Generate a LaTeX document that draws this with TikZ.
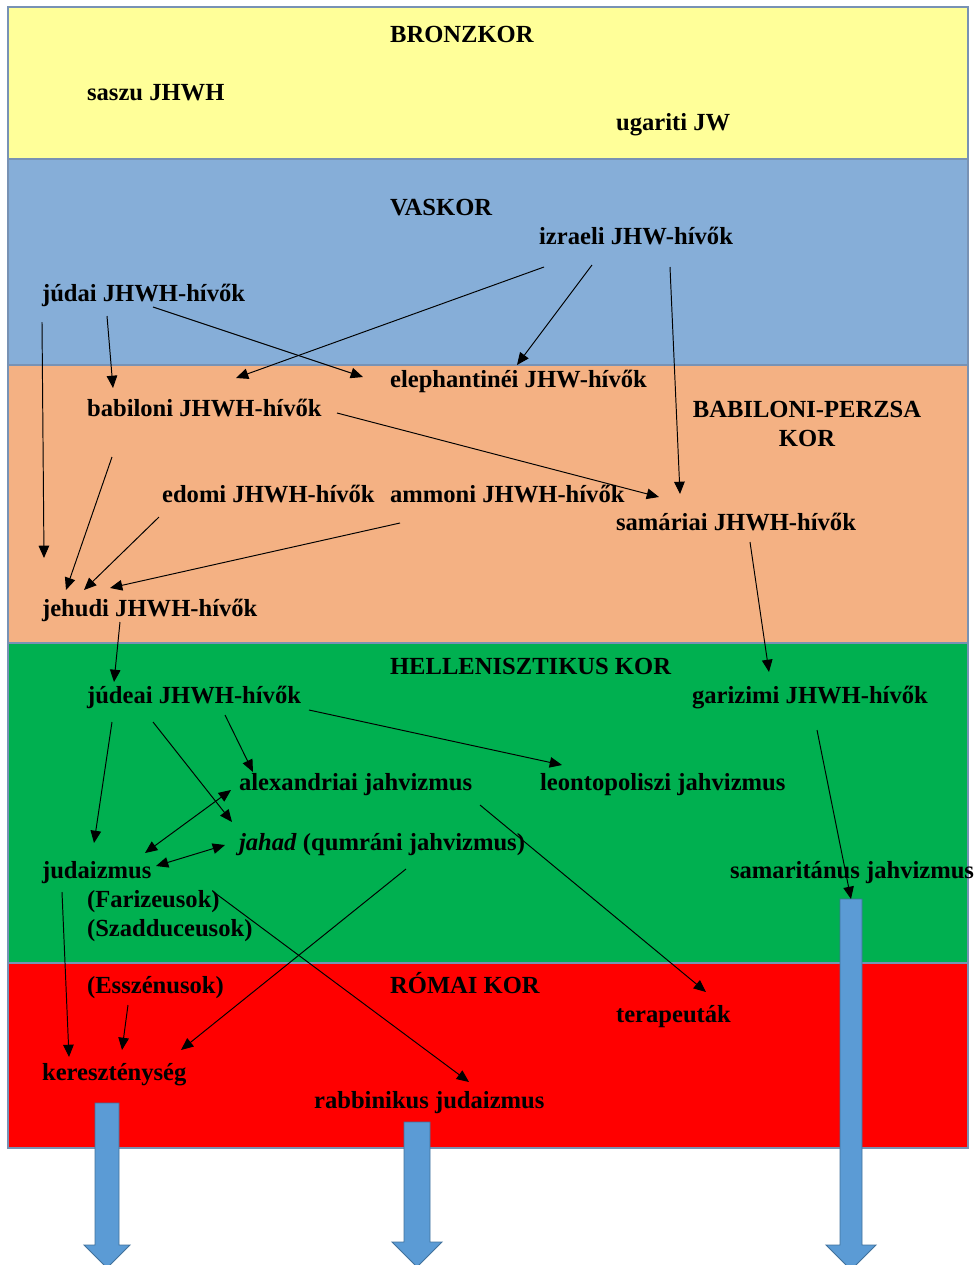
\documentclass[tikz,border=0pt]{standalone}
\usepackage{fontspec}
\setmainfont{Liberation Serif}
\usepackage{tikz}
\usetikzlibrary{arrows.meta, calc, positioning}
\definecolor{bronzsz}{HTML}{FFFF99}
\definecolor{vassz}{HTML}{86AED8}
\definecolor{perzsasz}{HTML}{F4B183}
\definecolor{hellsz}{HTML}{00B050}
\definecolor{romaisz}{HTML}{FF0000}
\definecolor{nyilsz}{HTML}{5B9BD5}
\definecolor{nyilkeret}{HTML}{41719C}
\definecolor{keretsz}{HTML}{7892B4}

\begin{document}
\begin{tikzpicture}[x=0.02cm,y=-0.02cm,
        sav/.style={draw=keretsz,line width=0.6pt},
        cimke/.style={font=\fontsize{14}{16.5}\selectfont\bfseries,anchor=west,inner sep=1pt,text height=10pt,text depth=3pt},
        nyil/.style={-{Triangle[length=7pt,width=6pt]},line width=0.55pt},
        kettos/.style={{Triangle[length=7pt,width=6pt]}-{Triangle[length=7pt,width=6pt]},line width=0.55pt},
        vastag/.style={fill=nyilsz,draw=nyilkeret,line width=0.5pt}]

        \useasboundingbox (0,0) rectangle (976,1265);

        % Korszakok sávjai
        \draw[sav,fill=bronzsz] (8,7) rectangle (968,159); % Bronzkor
        \draw[sav,fill=vassz] (8,159) rectangle (968,365); % Vaskor
        \draw[sav,fill=perzsasz] (8,365) rectangle (968,643); % Babiloni-perzsa kor
        \draw[sav,fill=hellsz] (8,643) rectangle (968,963); % Hellenisztikus kor
        \draw[sav,fill=romaisz] (8,963) rectangle (968,1148); % Római kor

        % Vastag kék nyilak lefelé
        \draw[vastag] (95,1103) -- (119,1103) -- (119,1245) -- (130,1245) -- (107,1268) -- (84,1245) -- (95,1245) -- cycle;
        \draw[vastag] (404,1122) -- (430,1122) -- (430,1242) -- (442,1242) -- (417,1267) -- (392,1242) -- (404,1242) -- cycle;
        \draw[vastag] (840,899) -- (862,899) -- (862,1245) -- (876,1245) -- (851,1270) -- (826,1245) -- (840,1245) -- cycle;
        \coordinate (sbar) at (851,899);

        % Korszakok nevei
        \node[cimke] (bronz) at (388,36) {BRONZKOR};
        \node[cimke] (vas) at (388,209) {VASKOR};
        \node[cimke,anchor=center,align=center,text height=,text depth=] (bpk) at (807,424) {BABILONI-PERZSA\\KOR};
        \node[cimke] (hell) at (388,668) {HELLENISZTIKUS KOR};
        \node[cimke] (romai) at (388,987) {RÓMAI KOR};

        % Csoportok
        \node[cimke] (saszu) at (85,94) {saszu JHWH};
        \node[cimke] (ugar) at (614,124) {ugariti JW};
        \node[cimke] (izr) at (537,238) {izraeli JHW-hívők};
        \node[cimke] (juda) at (40,295) {júdai JHWH-hívők};
        \node[cimke] (eleph) at (388,381) {elephantinéi JHW-hívők};
        \node[cimke] (babil) at (85,410) {babiloni JHWH-hívők};
        \node[cimke] (edom) at (160,496) {edomi JHWH-hívők};
        \node[cimke] (ammon) at (388,496) {ammoni JHWH-hívők};
        \node[cimke] (samar) at (614,524) {samáriai JHWH-hívők};
        \node[cimke] (jehud) at (40,610) {jehudi JHWH-hívők};
        \node[cimke] (judea) at (85,697) {júdeai JHWH-hívők};
        \node[cimke] (gariz) at (690,697) {garizimi JHWH-hívők};
        \node[cimke] (alex) at (237,784) {alexandriai jahvizmus};
        \node[cimke] (leont) at (538,784) {leontopoliszi jahvizmus};
        \node[cimke] (jahad) at (237,844) {\textit{jahad} (qumráni jahvizmus)};
        \node[cimke] (judaiz) at (40,872) {judaizmus};
        \node[cimke] (samjah) at (728,872) {samaritánus jahvizmus};
        \node[cimke] (fariz) at (85,901) {(Farizeusok)};
        \node[cimke] (szadd) at (85,930) {(Szadduceusok)};
        \node[cimke] (esszen) at (85,987) {(Esszénusok)};
        \node[cimke] (terap) at (614,1016) {terapeuták};
        \node[cimke] (kereszt) at (40,1074) {kereszténység};
        \node[cimke] (rabbi) at (312,1102) {rabbinikus judaizmus};

        % Kapcsolatok
        \draw[nyil] ($(izr.west)+(7,29)$) -- ($(babil.west)+(151,-32)$);
        \draw[nyil] ($(izr.west)+(55,27)$) -- ($(eleph.west)+(129,-16)$);
        \draw[nyil] ($(izr.west)+(133,29)$) -- ($(samar.west)+(66,-30)$);
        \draw[nyil] ($(juda.west)+(2,27)$) -- ($(jehud.west)+(4,-52)$);
        \draw[nyil] ($(juda.west)+(67,21)$) -- ($(babil.west)+(28,-22)$);
        \draw[nyil] ($(juda.west)+(113,12)$) -- ($(eleph.west)+(-25,-4)$);
        \draw[nyil] ($(babil.west)+(252,3)$) -- ($(samar.west)+(45,-27)$);
        \draw[nyil] ($(babil.west)+(27,47)$) -- ($(jehud.west)+(26,-20)$);
        \draw[nyil] ($(edom.west)+(-1,21)$) -- ($(jehud.west)+(44,-20)$);
        \draw[nyil] ($(ammon.west)+(12,27)$) -- ($(jehud.west)+(70,-22)$);
        \draw[nyil] ($(samar.west)+(136,18)$) -- ($(gariz.west)+(79,-25)$);
        \draw[nyil] ($(jehud.west)+(80,12)$) -- ($(judea.west)+(29,-15)$);
        \draw[nyil] ($(judea.west)+(27,25)$) -- ($(judaiz.west)+(54,-29)$);
        \draw[nyil] ($(judea.west)+(68,25)$) -- ($(jahad.west)+(-5,-22)$);
        \draw[nyil] ($(judea.west)+(140,18)$) -- ($(alex.west)+(16,-12)$);
        \draw[nyil] ($(judea.west)+(224,13)$) -- ($(leont.west)+(24,-19)$);
        \draw[kettos] ($(alex.west)+(-6,6)$) -- ($(judaiz.west)+(105,-19)$);
        \draw[kettos] ($(jahad.west)+(-12,1)$) -- ($(judaiz.west)+(116,-6)$);
        \draw[nyil] ($(alex.west)+(243,21)$) -- ($(terap.west)+(92,-24)$);
        \draw[nyil] ($(jahad.west)+(169,25)$) -- ($(kereszt.west)+(141,-24)$);
        \draw[nyil] ($(judaiz.west)+(22,20)$) -- ($(kereszt.west)+(29,-17)$);
        \draw[nyil] ($(fariz.west)+(130,-8)$) -- ($(rabbi.west)+(157,-20)$);
        \draw[nyil] ($(esszen.west)+(43,18)$) -- ($(kereszt.west)+(82,-24)$);
        \draw[nyil] ($(gariz.west)+(127,33)$) -- (sbar);

\end{tikzpicture}
\end{document}
